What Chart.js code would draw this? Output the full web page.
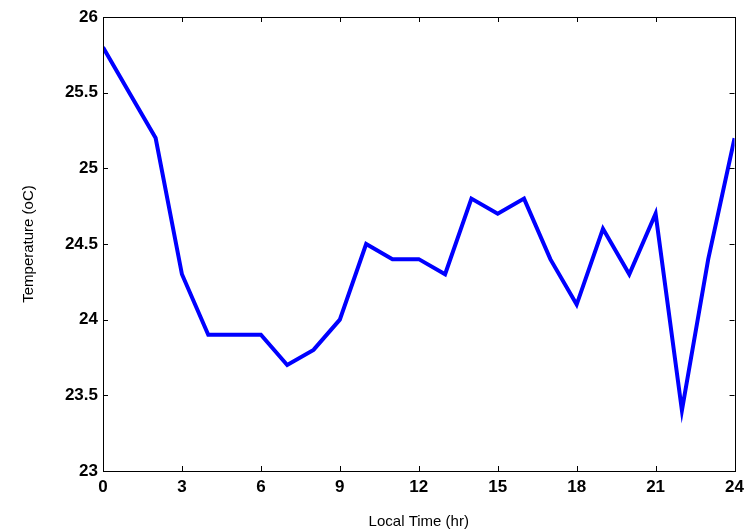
<!DOCTYPE html>
<html>
<head>
<meta charset="utf-8">
<script src="https://cdn.jsdelivr.net/npm/chart.js@4.4.0/dist/chart.umd.min.js"></script>
<style>
  html, body { margin: 0; padding: 0; background: #fff; }
  #wrap { width: 750px; height: 531px; }
</style>
</head>
<body>
<div id="wrap"><canvas id="tempChart" width="750" height="531"></canvas></div>
<script>
// hourly readings, local time 0..24 h
const hours = [0, 1, 2, 3, 4, 5, 6, 7, 8, 9, 10, 11, 12, 13, 14, 15, 16, 17, 18, 19, 20, 21, 22, 23, 24];
const temperature = [25.8, 25.5, 25.2, 24.3, 23.9, 23.9, 23.9, 23.7, 23.8, 24.0, 24.5, 24.4, 24.4, 24.3,
                     24.8, 24.7, 24.8, 24.4, 24.1, 24.6, 24.3, 24.7, 23.4, 24.4, 25.2];
const xTicks = [0, 3, 6, 9, 12, 15, 18, 21, 24];
const yTicks = [23, 23.5, 24, 24.5, 25, 25.5, 26];

const points = hours.map((h, i) => ({ x: h, y: temperature[i] }));

// matlab style box with inward ticks on all four sides
const boxTicks = {
    id: 'boxTicks',
    afterDraw(chart) {
        const { ctx, chartArea: a, scales } = chart;
        const len = 5;
        ctx.save();
        ctx.strokeStyle = '#000';
        ctx.lineWidth = 1;
        ctx.beginPath();
        xTicks.forEach(v => {
            const px = Math.round(scales.x.getPixelForValue(v)) + 0.5;
            ctx.moveTo(px, a.bottom); ctx.lineTo(px, a.bottom - len);
            ctx.moveTo(px, a.top); ctx.lineTo(px, a.top + len);
        });
        yTicks.forEach(v => {
            const py = Math.round(scales.y.getPixelForValue(v)) + 0.5;
            ctx.moveTo(a.left, py); ctx.lineTo(a.left + len, py);
            ctx.moveTo(a.right, py); ctx.lineTo(a.right - len, py);
        });
        ctx.stroke();
        ctx.strokeRect(Math.round(a.left) + 0.5, Math.round(a.top) + 0.5,
                       Math.round(a.right - a.left), Math.round(a.bottom - a.top));
        ctx.restore();
    }
};

new Chart(document.getElementById('tempChart'), {
    type: 'line',
    data: {
        datasets: [{
            data: points,
            borderColor: '#0000ff',
            borderWidth: 4,
            pointRadius: 0,
            tension: 0,
            fill: false
        }]
    },
    options: {
        responsive: false,
        animation: false,
        layout: { padding: { top: 17, right: 14, left: 20, bottom: 0 } },
        plugins: { legend: { display: false }, tooltip: { enabled: false } },
        scales: {
            x: {
                type: 'linear',
                min: 0,
                max: 24,
                afterBuildTicks: s => { s.ticks = xTicks.map(v => ({ value: v })); },
                afterFit: s => { s.height = 60; },
                grid: { drawOnChartArea: false, drawTicks: false },
                border: { display: false },
                ticks: {
                    padding: 6,
                    color: '#000',
                    font: { family: 'Liberation Sans, Arial, sans-serif', size: 17, weight: 'bold' }
                },
                title: {
                    display: true,
                    text: 'Local Time (hr)',
                    color: '#000',
                    padding: { top: 4, bottom: 0 },
                    font: { family: 'Liberation Sans, Arial, sans-serif', size: 15 }
                }
            },
            y: {
                min: 23,
                max: 26,
                afterBuildTicks: s => { s.ticks = yTicks.map(v => ({ value: v })); },
                afterFit: s => { s.width = 83; },
                grid: { drawOnChartArea: false, drawTicks: false },
                border: { display: false },
                ticks: {
                    padding: 5,
                    color: '#000',
                    callback: v => String(v),
                    font: { family: 'Liberation Sans, Arial, sans-serif', size: 17, weight: 'bold' }
                },
                title: {
                    display: true,
                    text: 'Temperature (oC)',
                    color: '#000',
                    padding: { top: 0, bottom: 4 },
                    font: { family: 'Liberation Sans, Arial, sans-serif', size: 15 }
                }
            }
        }
    },
    plugins: [boxTicks]
});
</script>
</body>
</html>
